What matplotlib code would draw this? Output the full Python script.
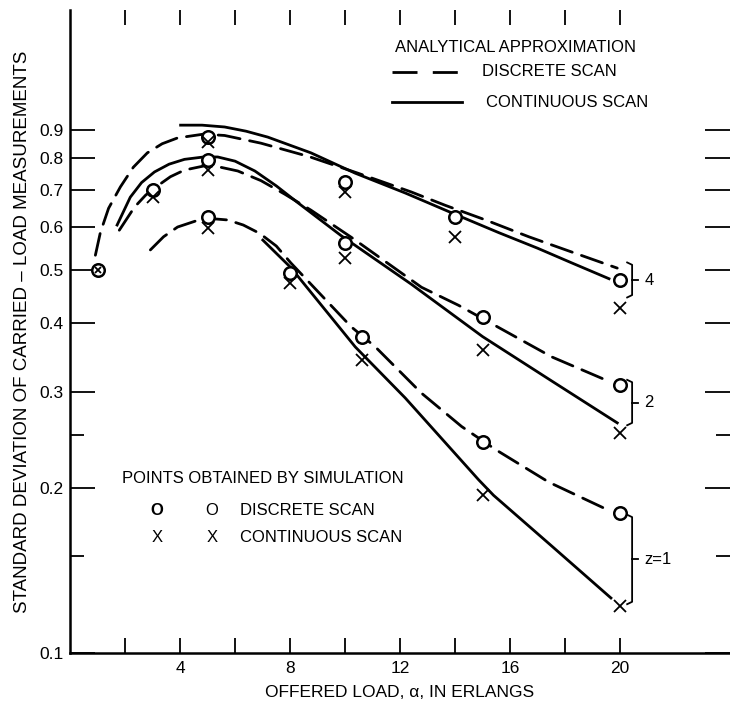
import matplotlib
matplotlib.use("Agg")
import matplotlib.pyplot as plt

plt.rcParams['font.family'] = ['Liberation Sans', 'DejaVu Sans']

# simulation points (x = offered load)
load_4 = [1, 3, 5, 10, 14, 20]
disc_4 = [0.50, 0.70, 0.874, 0.725, 0.625, 0.479]
cont_4 = [0.50, 0.68, 0.855, 0.694, 0.574, 0.426]

load_2 = [5, 10, 15, 20]
disc_2 = [0.794, 0.560, 0.410, 0.308]
cont_2 = [0.761, 0.526, 0.357, 0.252]

load_1 = [5, 8, 10.6, 15, 20]
disc_1 = [0.625, 0.494, 0.377, 0.243, 0.180]
cont_1 = [0.596, 0.473, 0.343, 0.194, 0.122]

# analytical curves
ax4_d = [0.92, 1.1, 1.4, 1.83, 2.3, 2.81, 3.35, 3.91, 4.86, 5.62, 6.94, 8.7, 10.47, 12.41, 13.65, 15.11, 16.68, 18.03, 19.9]
ay4_d = [0.532, 0.585, 0.648, 0.709, 0.770, 0.818, 0.850, 0.871, 0.885, 0.880, 0.852, 0.805, 0.751, 0.694, 0.656, 0.617, 0.575, 0.544, 0.504]
ax4_c = [4.02, 4.8, 5.62, 6.4, 7.19, 8.76, 10.37, 12.19, 13.87, 15.59, 17.0, 18.25, 19.6]
ay4_c = [0.919, 0.919, 0.912, 0.896, 0.874, 0.818, 0.751, 0.691, 0.636, 0.585, 0.548, 0.515, 0.482]

ax2_c = [1.71, 2.19, 2.6, 3.07, 3.6, 4.16, 4.86, 5.37, 6.0, 6.72, 7.5, 8.29, 9.85, 12.41, 15.0, 17.5, 19.9]
ay2_c = [0.604, 0.679, 0.722, 0.755, 0.780, 0.796, 0.804, 0.804, 0.790, 0.758, 0.712, 0.663, 0.578, 0.471, 0.378, 0.314, 0.263]
ax2_d = [1.79, 2.34, 2.75, 3.18, 3.65, 4.16, 4.86, 5.37, 6.1, 6.94, 7.8, 8.76, 10.22, 12.78, 14.13, 15.22, 17.52, 19.67]
ay2_d = [0.591, 0.651, 0.685, 0.712, 0.740, 0.761, 0.774, 0.772, 0.758, 0.728, 0.688, 0.643, 0.574, 0.465, 0.431, 0.402, 0.347, 0.312]

ax1_d = [2.92, 3.4, 3.91, 4.89, 5.73, 6.3, 6.9, 7.5, 8.03, 10.22, 11.1, 12.78, 14.24, 15.48, 17.41, 19.6]
ay1_d = [0.544, 0.575, 0.599, 0.622, 0.617, 0.604, 0.583, 0.553, 0.515, 0.394, 0.362, 0.298, 0.259, 0.235, 0.205, 0.182]
ax1_c = [7.01, 8.03, 10.37, 10.95, 12.19, 14.86, 15.4, 17.5, 19.67]
ay1_c = [0.567, 0.505, 0.362, 0.338, 0.292, 0.207, 0.194, 0.157, 0.126]

# brace annotations at x=20: (low, high, label, label y)
braces = [(0.450, 0.511, '4', 0.479), (0.263, 0.312, '2', 0.287), (0.124, 0.177, 'z=1', 0.148)]

ytick_vals = [0.1, 0.2, 0.3, 0.4, 0.5, 0.6, 0.7, 0.8, 0.9]
ytick_lab = ['0.1', '0.2', '0.3', '0.4', '0.5', '0.6', '0.7', '0.8', '0.9']
xtick_vals = [4, 8, 12, 16, 20]

fig = plt.figure(figsize=(7.3, 7.01), dpi=100)
ax = fig.add_axes([0.096, 0.0685, 0.904, 0.917])
ax.set_yscale('log')
ax.set_xlim(0, 24)
ax.set_ylim(0.1, 1.49)

lw = 2.0
dash = (8, 3.5)
for xs, ys in [(ax4_d, ay4_d), (ax2_d, ay2_d), (ax1_d, ay1_d)]:
    ax.plot(xs, ys, color='black', lw=lw, dashes=dash, dash_capstyle='round')
for xs, ys in [(ax4_c, ay4_c), (ax2_c, ay2_c), (ax1_c, ay1_c)]:
    ax.plot(xs, ys, color='black', lw=lw, solid_joinstyle='round')

for xs, ys in [(load_4, disc_4), (load_2, disc_2), (load_1, disc_1)]:
    ax.plot(xs, ys, 'o', ms=9, mfc='white', mec='black', mew=1.8)
for xs, ys in [(load_4[1:], cont_4[1:]), (load_2, cont_2), (load_1, cont_1)]:
    ax.plot(xs, ys, 'x', ms=8, color='black', mew=1.3)
# the point at load 1 coincides for both scans
ax.plot([load_4[0]], [cont_4[0]], 'x', ms=5, color='black', mew=1.3)

# braces
bx = 20.44
for lo, hi, lab, ly in braces:
    mid = (lo * hi) ** 0.5
    ax.plot([bx - 0.18, bx, bx, bx - 0.18], [hi * 1.01, hi, lo, lo * 0.99], color='black', lw=1.3)
    ax.plot([bx, bx + 0.2], [mid, mid], color='black', lw=1.3)
    ax.text(bx + 0.45, ly, lab, fontsize=12, va='center', ha='left')

# ticks
ax.set_yticks(ytick_vals)
ax.set_yticklabels(ytick_lab, fontsize=12.5)
ax.set_yticks([0.15, 0.25], minor=True)
ax.set_yticklabels([], minor=True)
ax.set_xticks(list(range(2, 22, 2)))
ax.set_xticklabels([str(v) if v in xtick_vals else '' for v in range(2, 22, 2)], fontsize=12.5)
ax.xaxis.set_minor_locator(plt.NullLocator())
ax.tick_params(axis='y', which='major', direction='in', length=18, width=1.3, right=True, pad=5)
ax.tick_params(axis='y', which='minor', direction='in', length=10, width=1.3, right=True)
ax.tick_params(axis='x', which='major', direction='in', length=11, width=1.3, top=True, pad=6)
for s in ['top', 'right']:
    ax.spines[s].set_visible(False)
for s in ['left', 'bottom']:
    ax.spines[s].set_linewidth(1.8)

ax.set_xlabel('OFFERED LOAD, \u03b1, IN ERLANGS', fontsize=12.5, labelpad=6)
ax.set_ylabel('STANDARD DEVIATION OF CARRIED \u2013 LOAD MEASUREMENTS', fontsize=13.5, labelpad=6)

# legends as text in axes fraction
ax.text(0.492, 0.942, 'ANALYTICAL APPROXIMATION', transform=ax.transAxes, fontsize=12, va='center')
ax.plot([0.488, 0.591], [0.904, 0.904], transform=ax.transAxes, color='black', lw=lw, dashes=(9, 5.5))
ax.text(0.624, 0.904, 'DISCRETE SCAN', transform=ax.transAxes, fontsize=12, va='center')
ax.plot([0.488, 0.594], [0.857, 0.857], transform=ax.transAxes, color='black', lw=lw)
ax.text(0.630, 0.857, 'CONTINUOUS SCAN', transform=ax.transAxes, fontsize=12, va='center')

ax.text(0.079, 0.271, 'POINTS OBTAINED BY SIMULATION', transform=ax.transAxes, fontsize=12, va='center')
ax.text(0.132, 0.221, 'O', transform=ax.transAxes, fontsize=12, fontweight='bold', va='center', ha='center')
ax.text(0.215, 0.221, 'O', transform=ax.transAxes, fontsize=12, va='center', ha='center')
ax.text(0.258, 0.221, 'DISCRETE SCAN', transform=ax.transAxes, fontsize=12, va='center')
ax.text(0.132, 0.179, 'X', transform=ax.transAxes, fontsize=12, va='center', ha='center')
ax.text(0.215, 0.179, 'X', transform=ax.transAxes, fontsize=12, va='center', ha='center')
ax.text(0.258, 0.179, 'CONTINUOUS SCAN', transform=ax.transAxes, fontsize=12, va='center')

fig.savefig('out.png', dpi=100)
